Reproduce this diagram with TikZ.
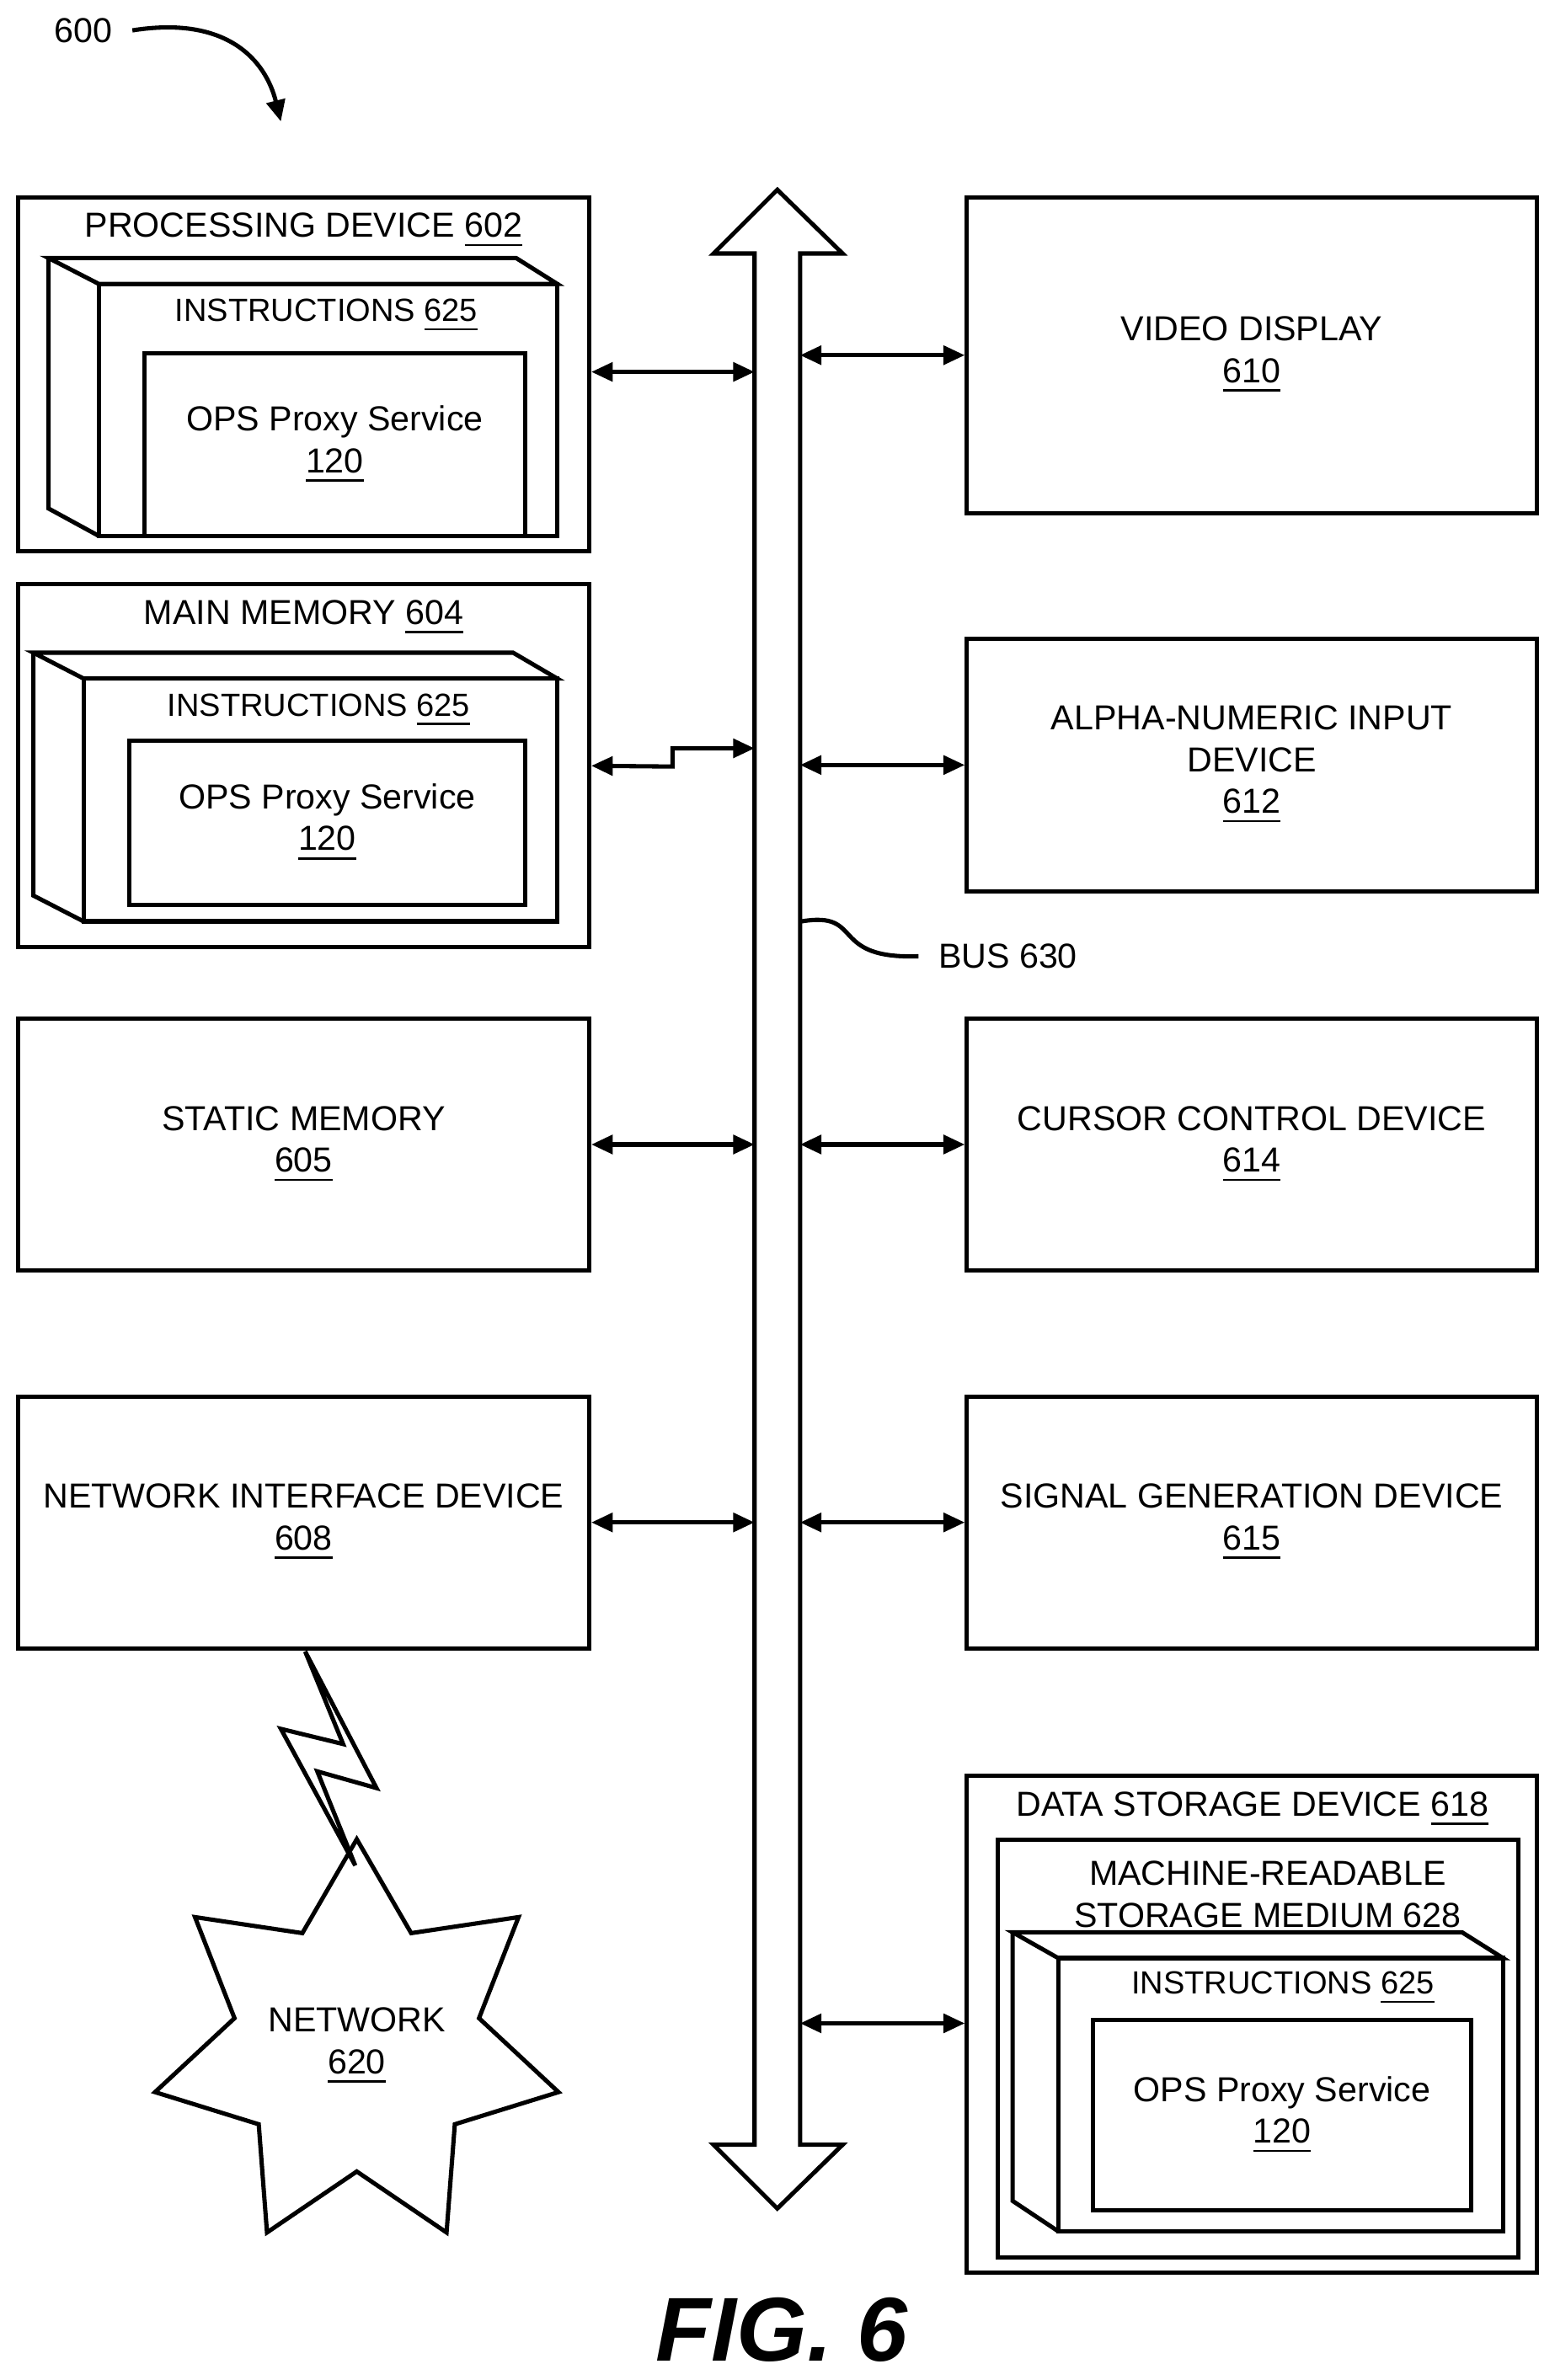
\documentclass[tikz,border=0pt]{standalone}
\usepackage{fontspec}
\setmainfont{Liberation Sans}
\usetikzlibrary{positioning,shapes.geometric,arrows.meta}
\newcommand{\refn}[1]{\underline{#1}}
\tikzset{
  box/.style={draw, line width=0.8pt, fill=white, align=center, font=\fontsize{6.5}{7.8}\selectfont},
  lbl/.style={align=center, font=\fontsize{6.5}{7.8}\selectfont},
  small/.style={align=center, font=\fontsize{6}{7.2}\selectfont},
  link/.style={{Triangle[length=4pt,width=3.5pt]}-{Triangle[length=4pt,width=3.5pt]}, line width=0.8pt},
}
\begin{document}
\begin{tikzpicture}[x=0.01cm, y=-0.01cm, line width=0.8pt]
    \useasboundingbox (0,0) rectangle (1024,1568);

    % figure number
    \node[lbl] (fig) at (55,20) {600};
    \draw[-{Triangle[length=4pt,width=3.5pt]}] (fig.east) .. controls (150,10) and (175,40) .. (185,80);

    % bus
    \draw[fill=white] (512,125) -- (555,167) -- (527,167) -- (527,1413) -- (555,1413)
        -- (512,1455) -- (470,1413) -- (497,1413) -- (497,167) -- (470,167) -- cycle;
    \coordinate (busL) at (497,0);
    \coordinate (busR) at (527,0);
    \node[lbl, anchor=west] (bus) at (605,630) {BUS 630};
    \draw (528,607) .. controls (570,600) and (545,632) .. (bus.west);

    % processing device
    \node[box, minimum width=3.76cm, minimum height=2.33cm] (pd) at (200,246.5) {};
    \node[lbl] at (200,152) {PROCESSING DEVICE \refn{602}};
    \draw (32,170) -- (340,170) -- (367,187) -- (65,187) -- cycle;
    \draw (32,170) -- (32,335) -- (65,353);
    \draw (65,187) rectangle (367,353);
    \node[small] at (215,208) {INSTRUCTIONS \refn{625}};
    \node[box, minimum width=2.51cm, minimum height=1.2cm] (pdops) at (220.5,293) {OPS Proxy Service\\\refn{120}};

    % main memory
    \node[box, minimum width=3.76cm, minimum height=2.39cm] (mm) at (200,504.5) {};
    \node[lbl] at (200,407) {MAIN MEMORY \refn{604}};
    \draw (22,430) -- (338,430) -- (367,447) -- (55,447) -- cycle;
    \draw (22,430) -- (22,590) -- (55,607);
    \draw (55,447) rectangle (367,607);
    \node[small] at (210,468) {INSTRUCTIONS \refn{625}};
    \node[box, minimum width=2.61cm, minimum height=1.08cm] (mmops) at (215.5,542) {OPS Proxy Service\\\refn{120}};

    % other left boxes
    \node[box, minimum width=3.76cm, minimum height=1.66cm] (sm) at (200,754) {STATIC MEMORY\\\refn{605}};
    \node[box, minimum width=3.76cm, minimum height=1.66cm] (nid) at (200,1003) {NETWORK INTERFACE DEVICE\\\refn{608}};

    % right boxes
    \node[box, minimum width=3.75cm, minimum height=2.08cm] (vd) at (824.5,234) {VIDEO DISPLAY\\\refn{610}};
    \node[box, minimum width=3.75cm, minimum height=1.66cm] (an) at (824.5,504) {ALPHA-NUMERIC INPUT\\DEVICE\\\refn{612}};
    \node[box, minimum width=3.75cm, minimum height=1.66cm] (cc) at (824.5,754) {CURSOR CONTROL DEVICE\\\refn{614}};
    \node[box, minimum width=3.75cm, minimum height=1.66cm] (sg) at (824.5,1003) {SIGNAL GENERATION DEVICE\\\refn{615}};

    % data storage device
    \node[box, minimum width=3.75cm, minimum height=3.27cm] (ds) at (824.5,1333.5) {};
    \node[lbl] at (825,1192) {DATA STORAGE DEVICE \refn{618}};
    \draw (657,1212) rectangle (1000,1487);
    \node[lbl] at (835,1248) {MACHINE-READABLE\\STORAGE MEDIUM 628};
    \draw (667,1273) -- (963,1273) -- (990,1290) -- (697,1290) -- cycle;
    \draw (667,1273) -- (667,1450) -- (697,1470);
    \draw (697,1290) rectangle (990,1470);
    \node[small] at (845,1310) {INSTRUCTIONS \refn{625}};
    \node[box, minimum width=2.49cm, minimum height=1.25cm] (dsops) at (844.5,1393.5) {OPS Proxy Service\\\refn{120}};

    % network
    \node[box, star, star points=7, minimum size=2.3cm, inner sep=0pt, star point ratio=1.65] (net) at (235,1348) {NETWORK\\\refn{620}};
    \draw[fill=white] (201,1088) -- (248,1178) -- (209,1167) -- (234,1229) -- (185,1139) -- (226,1149) -- cycle;

    % bus links
    \draw[link] (pd.east |- 0,245) -- (busL |- 0,245);
    \draw[link] (mm.east) -- (443,505) -- (443,493) -- (busL |- 0,493);
    \draw[link] (sm.east) -- (sm.east -| busL);
    \draw[link] (nid.east) -- (nid.east -| busL);
    \draw[link] (busR |- vd.west) -- (vd.west);
    \draw[link] (busR |- an.west) -- (an.west);
    \draw[link] (busR |- cc.west) -- (cc.west);
    \draw[link] (busR |- sg.west) -- (sg.west);
    \draw[link] (busR |- 0,1333) -- (ds.west |- 0,1333);

    \node[font=\fontsize{17}{20}\selectfont\bfseries\itshape] (cap) at (515,1535) {FIG. 6};
\end{tikzpicture}
\end{document}
